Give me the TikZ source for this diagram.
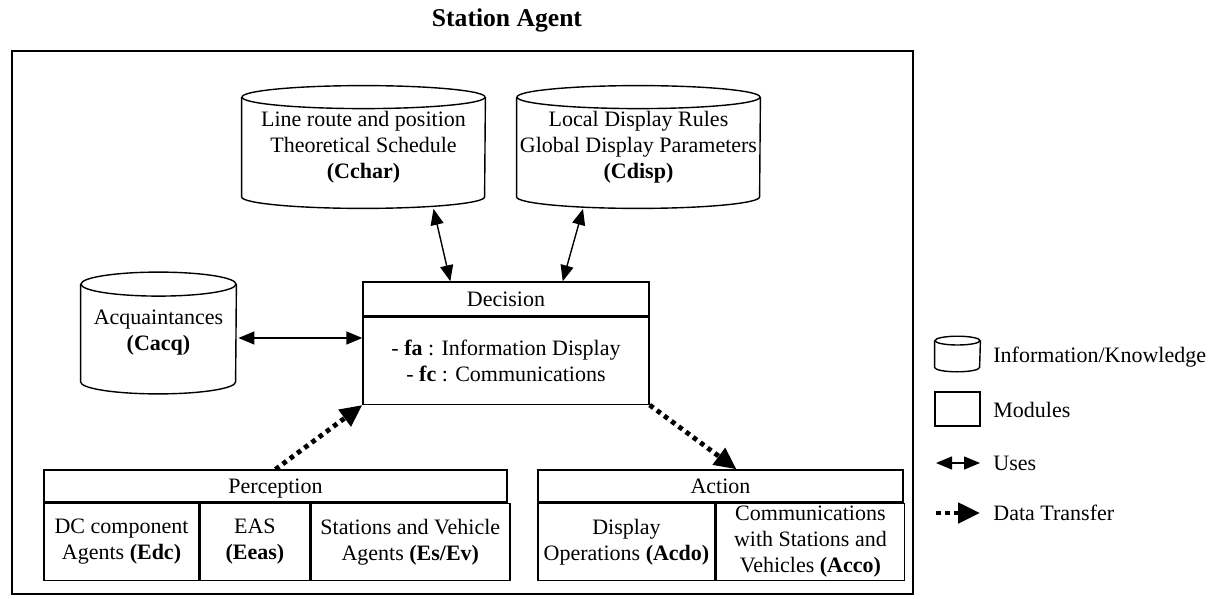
\documentclass[tikz,border=0pt]{standalone}
\usepackage{fontspec}
\setmainfont{Liberation Serif}
\usetikzlibrary{arrows.meta, calc}

\tikzset{
  txt/.style={font=\fontsize{11}{13}\selectfont, align=center, inner sep=0pt},
  store/.style={txt, rectangle},
  module/.style={txt, draw, line width=0.7pt, rectangle},
  uses/.style={line width=0.7pt, {Triangle[length=8pt,width=6.5pt]}-{Triangle[length=8pt,width=6.5pt]}},
  transfer/.style={line width=2.4pt, dash pattern=on 2.3pt off 2.2pt, -{Triangle[length=11pt,width=10pt]}}
}
% cylinder outline around a store node: #1 node, #2 x radius, #3 y radius
\newcommand{\storeoutline}[3]{%
  \draw[line width=0.7pt] (#1.north west) -- (#1.south west)
    arc[start angle=180, end angle=360, x radius=#2, y radius=#3] -- (#1.north east);
  \draw[line width=0.7pt] (#1.north) ellipse[x radius=#2, y radius=#3];
}

\begin{document}
\begin{tikzpicture}[x=0.5pt, y=-0.5pt]
    \useasboundingbox (0,0) rectangle (1215,599);
    \node[font=\fontsize{12.8}{15}\selectfont\bfseries] (title) at (507,20) {Station Agent};
    \draw[line width=0.9pt] (12,51) rectangle (913,594);

    % knowledge stores
    \node[store, minimum width=121.5pt, minimum height=49.5pt] (cchar) at (363.5,147)
        {Line route and position\\Theoretical Schedule\\\textbf{(Cchar)}};
    \storeoutline{cchar}{60.75pt}{5.75pt}
    \node[store, minimum width=121.5pt, minimum height=49.5pt] (cdisp) at (638.5,147)
        {Local Display Rules\\Global Display Parameters\\\textbf{(Cdisp)}};
    \storeoutline{cdisp}{60.75pt}{5.75pt}
    \node[store, minimum width=77.5pt, minimum height=48.5pt] (cacq) at (158.5,333)
        {Acquaintances\\\textbf{(Cacq)}};
    \storeoutline{cacq}{38.75pt}{6pt}

    % decision module
    \node[module, minimum width=143pt, minimum height=17pt] (dechead) at (506,299) {Decision};
    \node[module, minimum width=143pt, minimum height=43.5pt, anchor=north] (decbody) at (dechead.south)
        {- \textbf{fa} : Information Display\\- \textbf{fc} : Communications};

    % perception module
    \node[module, minimum width=231.5pt, minimum height=16pt, text depth=0pt] (percep) at (275.5,486) {Perception};
    \node[module, minimum width=77.5pt, minimum height=38.5pt, anchor=north west] (edc) at (percep.south west)
        {DC component\\Agents \textbf{(Edc)}};
    \node[module, minimum width=54.5pt, minimum height=38.5pt, anchor=north west] (eeas) at (edc.north east)
        {EAS\\\textbf{(Eeas)}};
    \node[module, minimum width=99.5pt, minimum height=38.5pt, anchor=north west] (esev) at (eeas.north east)
        {Stations and Vehicle\\Agents \textbf{(Es/Ev)}};

    % action module
    \node[module, minimum width=182.5pt, minimum height=16pt] (action) at (720.5,486) {Action};
    \node[module, minimum width=88.5pt, minimum height=38.5pt, anchor=north west] (acdo) at (action.south west)
        {Display\\Operations \textbf{(Acdo)}};
    \node[module, minimum width=94pt, minimum height=38.5pt, anchor=north west] (acco) at (acdo.north east)
        {Communications\\with Stations and\\Vehicles \textbf{(Acco)}};

    % connectors
    \draw[uses] ($(cchar.south)+(70,12)$) -- ($(dechead.north west)+(88,0)$);
    \draw[uses] ($(cdisp.south)+(-55.5,12)$) -- ($(dechead.north east)+(-87,0)$);
    \coordinate (acqport) at ($(cacq.east)+(2,5)$);
    \draw[uses] (acqport) -- (acqport -| decbody.west);
    \draw[transfer] (percep.north) -- (decbody.south west);
    \draw[transfer] (decbody.south east) -- ($(action.north)+(16,0)$);

    % legend
    \node[store, minimum width=22.5pt, minimum height=13pt] (lgstore) at (957.5,354) {};
    \storeoutline{lgstore}{11.25pt}{2.2pt}
    \node[txt, anchor=west] (lgstoretxt) at (993,357) {Information/Knowledge};
    \node[module, minimum width=22.5pt, minimum height=17pt] (lgmodule) at (957.5,409) {};
    \node[txt, anchor=west] (lgmoduletxt) at (993,410) {Modules};
    \coordinate (lgusesa) at (936,463);
    \coordinate (lgusesb) at (980,463);
    \draw[uses] (lgusesa) -- (lgusesb);
    \node[txt, anchor=west] (lgusestxt) at (993,463) {Uses};
    \coordinate (lgtransa) at (936,513);
    \coordinate (lgtransb) at (980,513);
    \draw[transfer] (lgtransa) -- (lgtransb);
    \node[txt, anchor=west] (lgtranstxt) at (993,513) {Data Transfer};
\end{tikzpicture}
\end{document}
